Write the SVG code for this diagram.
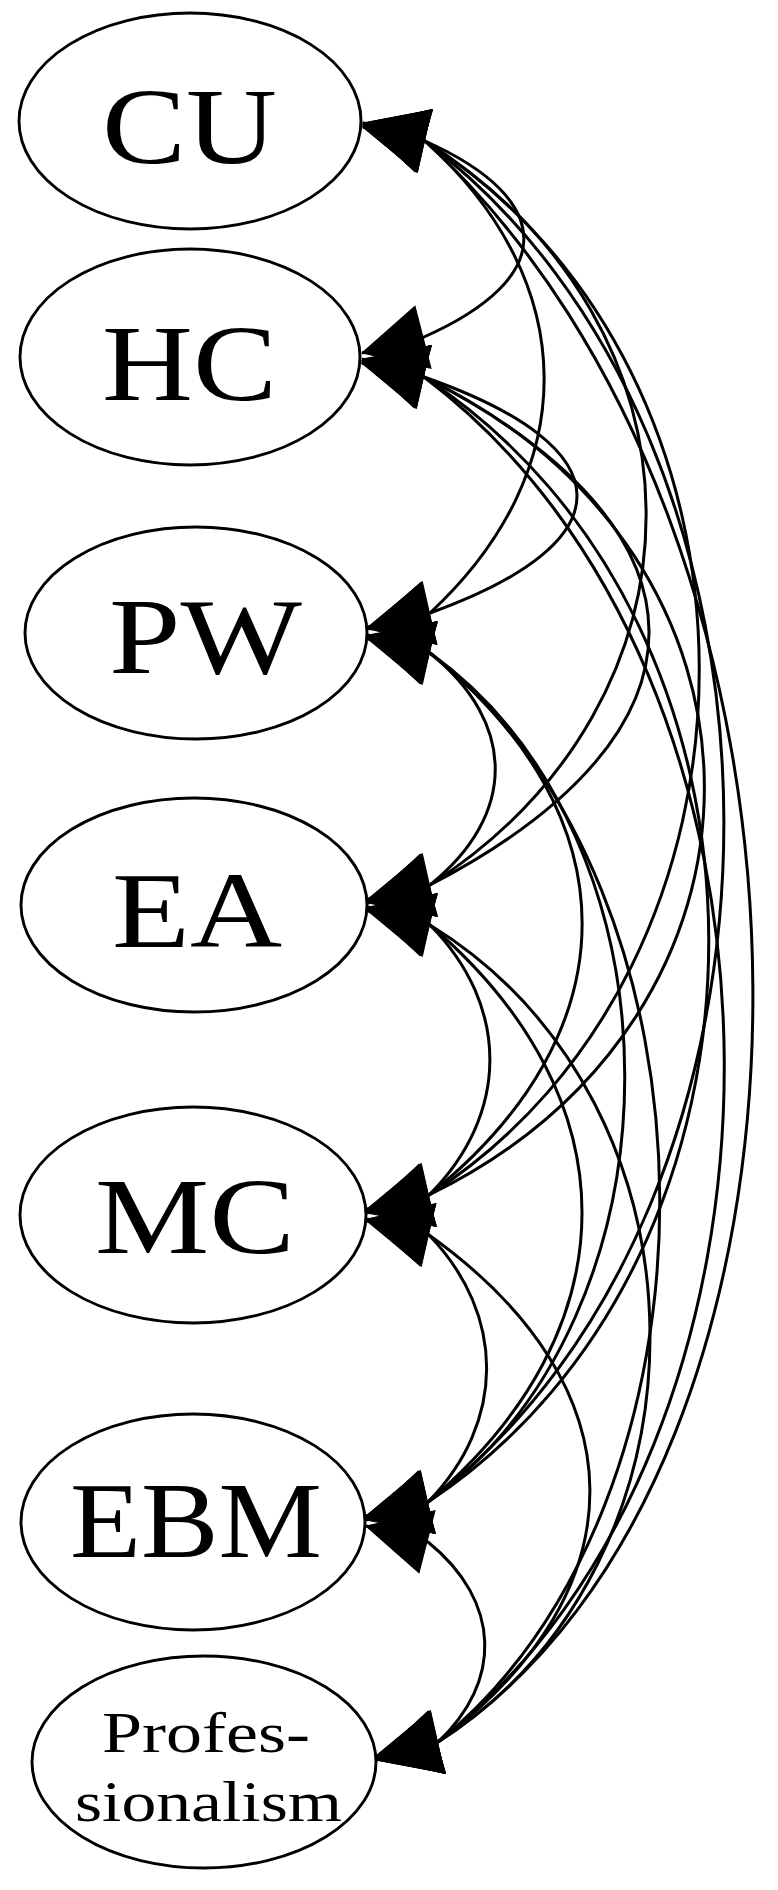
<svg xmlns="http://www.w3.org/2000/svg" width="778" height="1890" viewBox="0 0 778 1890">
<style>
.node ellipse{fill:#fff;stroke:#000;stroke-width:2.9}
.node text{font-family:"Liberation Serif","Times New Roman",serif;font-size:108px;fill:#000}
.node text.small{font-size:58px}
.edge{fill:none;stroke:#000;stroke-width:3;marker-start:url(#ah);marker-end:url(#ah)}
</style>
<defs>
<marker id="ah" markerUnits="userSpaceOnUse" markerWidth="70" markerHeight="70" refX="0" refY="0" orient="auto-start-reverse" style="overflow:visible">
<path d="M0,0 L-63,-32 L-63,32 Z" fill="#000" stroke="#000" stroke-width="1"/>
</marker>
</defs>
<rect width="778" height="1890" fill="#fff"/>
<g id="connectors">
<path class="edge" d="M363,125 L425,141 C557,200 557,278 424,337 L362,353"/>
<path class="edge" d="M362,361 L424,377 C627,448 627,542 430,613 L368,629"/>
<path class="edge" d="M368,637 L430,653 C517,723 517,815 430,885 L368,901"/>
<path class="edge" d="M368,909 L430,925 C510,1006 510,1114 429,1195 L367,1211"/>
<path class="edge" d="M367,1219 L429,1235 C506,1315 506,1422 428,1502 L366,1518"/>
<path class="edge" d="M366,1526 L428,1542 C502,1602 502,1682 438,1742 L376,1758"/>
<path class="edge" d="M363,127 L425,141 C583,283 583,471 430,613 L368,627"/>
<path class="edge" d="M362,363 L424,377 C723,529 723,733 430,885 L368,899"/>
<path class="edge" d="M368,639 L430,653 C633,816 633,1032 429,1195 L367,1209"/>
<path class="edge" d="M368,911 L430,925 C633,1098 633,1329 428,1502 L366,1516"/>
<path class="edge" d="M367,1221 L429,1235 C642,1387 642,1590 438,1742 L376,1756"/>
<path class="edge" d="M363,123 L425,141 C719,327 719,699 430,885 L368,903"/>
<path class="edge" d="M362,359 L424,377 C797,557 797,1015 429,1195 L367,1213"/>
<path class="edge" d="M368,635 L430,653 C690,840 690,1315 428,1502 L366,1520"/>
<path class="edge" d="M368,907 L430,925 C722,1105 722,1562 438,1742 L376,1760"/>
<path class="edge" d="M363,125 L425,141 C790,373 790,963 429,1195 L367,1211"/>
<path class="edge" d="M362,361 L424,377 C803,625 803,1254 428,1502 L366,1518"/>
<path class="edge" d="M368,637 L430,653 C735,893 735,1502 438,1742 L376,1758"/>
<path class="edge" d="M363,127 L425,141 C823,441 823,1202 428,1502 L366,1516"/>
<path class="edge" d="M362,363 L424,377 C822,677 822,1442 438,1742 L376,1756"/>
<path class="edge" d="M363,123 L425,141 C860,539 860,1469 438,1742 L376,1760"/>
</g>
<g id="node-CU" class="node"><ellipse cx="190" cy="121" rx="171" ry="108"/><text x="102" y="163" textLength="175" lengthAdjust="spacingAndGlyphs">CU</text></g>
<g id="node-HC" class="node"><ellipse cx="190" cy="357" rx="170" ry="108"/><text x="102" y="400" textLength="175" lengthAdjust="spacingAndGlyphs">HC</text></g>
<g id="node-PW" class="node"><ellipse cx="196" cy="633" rx="171" ry="106"/><text x="109" y="673" textLength="193" lengthAdjust="spacingAndGlyphs">PW</text></g>
<g id="node-EA" class="node"><ellipse cx="194" cy="905" rx="173" ry="107"/><text x="112" y="947" textLength="170" lengthAdjust="spacingAndGlyphs">EA</text></g>
<g id="node-MC" class="node"><ellipse cx="193" cy="1215" rx="173" ry="108"/><text x="95" y="1253" textLength="200" lengthAdjust="spacingAndGlyphs">MC</text></g>
<g id="node-EBM" class="node"><ellipse cx="193" cy="1522" rx="172" ry="108"/><text x="70" y="1557" textLength="252" lengthAdjust="spacingAndGlyphs">EBM</text></g>
<g id="node-Professionalism" class="node"><ellipse cx="204" cy="1762" rx="172" ry="106"/><text class="small" x="102" y="1752" textLength="208" lengthAdjust="spacingAndGlyphs">Profes-</text><text class="small" x="75" y="1821" textLength="267" lengthAdjust="spacingAndGlyphs">sionalism</text></g>
</svg>
